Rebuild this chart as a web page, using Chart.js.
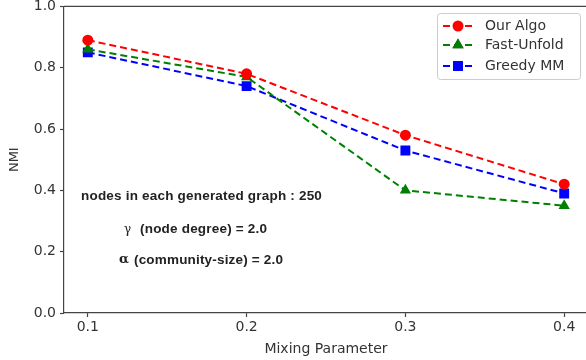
<!DOCTYPE html>
<html>
<head>
<meta charset="utf-8">
<script src="https://cdn.jsdelivr.net/npm/chart.js@4.4.0/dist/chart.umd.min.js"></script>
<style>
html,body{margin:0;padding:0;background:#fff;overflow:hidden;}
#wrap{width:586px;height:360px;position:relative;overflow:hidden;}
#c{position:absolute;left:0;top:-6px;}
</style>
</head>
<body>
<div id="wrap"><canvas id="c" width="620" height="366"></canvas></div>
<script>
const mixing = [0.1, 0.2, 0.3, 0.4];
const ourAlgo = [0.89, 0.78, 0.58, 0.42];
const fastUnfold = [0.86, 0.77, 0.40, 0.35];
const greedyMM = [0.85, 0.74, 0.53, 0.39];
const seriesNames = ['Our Algo', 'Fast-Unfold', 'Greedy MM'];
const yTicks = [0.0, 0.2, 0.4, 0.6, 0.8, 1.0];
const xTicks = [0.1, 0.2, 0.3, 0.4];
const notes = ['nodes in each generated graph : 250', '(node degree) = 2.0', '(community-size) = 2.0'];

const pts = arr => arr.map((v, i) => ({x: mixing[i], y: v}));
const TXT = '#333333';
const FONT = 'DejaVu Sans';
const OFF = 6; // canvas vertical offset

function fitText(ctx, text, x, y, width) {
  ctx.letterSpacing = '0px';
  const w = ctx.measureText(text).width;
  const sp = (width - w) / Math.max(1, text.length - 1);
  ctx.letterSpacing = sp.toFixed(2) + 'px';
  ctx.fillText(text, x, y);
  ctx.letterSpacing = '0px';
}

const overlay = {
  id: 'overlay',
  afterDraw(chart) {
    const ctx = chart.ctx;
    const a = chart.chartArea;
    ctx.save();
    // top spine
    ctx.strokeStyle = '#444';
    ctx.lineWidth = 1.2;
    ctx.beginPath();
    ctx.moveTo(a.left, a.top);
    ctx.lineTo(a.right, a.top);
    ctx.stroke();

    // annotations
    ctx.fillStyle = '#222';
    ctx.textBaseline = 'middle';
    ctx.textAlign = 'left';
    ctx.font = 'bold 13.5px "Liberation Sans"';
    fitText(ctx, notes[0], 81, 196 + OFF, 241);
    ctx.font = '12px "DejaVu Serif"';
    ctx.fillText('\u03b3', 124, 230 + OFF);
    ctx.font = 'bold 13.5px "Liberation Sans"';
    fitText(ctx, notes[1], 140, 229 + OFF, 127);
    ctx.font = 'bold 13px "DejaVu Serif"';
    ctx.fillText('\u03b1', 119, 260 + OFF);
    ctx.font = 'bold 13.5px "Liberation Sans"';
    fitText(ctx, notes[2], 134, 260 + OFF, 149);

    // legend
    const lx = 437, ly = 13 + OFF, lw = 143, lh = 66;
    ctx.fillStyle = 'rgba(255,255,255,0.85)';
    ctx.strokeStyle = '#cccccc';
    ctx.lineWidth = 1;
    ctx.beginPath();
    if (ctx.roundRect) ctx.roundRect(lx + 0.5, ly + 0.5, lw, lh, 3); else ctx.rect(lx + 0.5, ly + 0.5, lw, lh);
    ctx.fill();
    ctx.stroke();
    const rows = [26, 45, 66];
    chart.data.datasets.forEach((ds, i) => {
      const y = rows[i] + OFF;
      ctx.strokeStyle = ds.borderColor;
      ctx.lineWidth = ds.borderWidth;
      ctx.setLineDash(ds.borderDash);
      ctx.beginPath();
      ctx.moveTo(443, y);
      ctx.lineTo(474, y);
      ctx.stroke();
      ctx.setLineDash([]);
      Chart.helpers.drawPoint(ctx, {pointStyle: ds.pointStyle, radius: ds.pointRadius, borderWidth: 0}, 458, y);
      ctx.fillStyle = ds.pointBackgroundColor;
      ctx.fill();
      ctx.fillStyle = TXT;
      ctx.font = '14px "DejaVu Sans"';
      ctx.textBaseline = 'middle';
      ctx.fillText(ds.label, 485, y);
    });
    ctx.restore();
  }
};

const mk = (label, data, color, style, r) => ({
  label, data: pts(data), borderColor: color, backgroundColor: color,
  pointBackgroundColor: color, pointBorderColor: color, pointBorderWidth: 0,
  pointStyle: style, pointRadius: r, pointHoverRadius: r,
  borderWidth: 2, borderDash: [7, 4], fill: false, tension: 0
});

new Chart(document.getElementById('c'), {
  type: 'line',
  data: {
    datasets: [
      mk(seriesNames[0], ourAlgo, '#ff0000', 'circle', 5.5),
      mk(seriesNames[1], fastUnfold, '#008000', 'triangle', 6.5),
      mk(seriesNames[2], greedyMM, '#0000ff', 'rect', 7)
    ]
  },
  options: {
    responsive: false,
    animation: false,
    layout: {padding: {top: 12, left: 0, right: 32, bottom: 0}},
    plugins: {legend: {display: false}, tooltip: {enabled: false}},
    scales: {
      x: {
        type: 'linear', min: 0.085, max: 0.415,
        afterBuildTicks: s => { s.ticks = xTicks.map(v => ({value: v})); },
        afterFit: s => { s.height = 47; },
        grid: {display: true, drawOnChartArea: false, drawTicks: true, tickLength: 4, color: '#444', tickWidth: 1.2},
        border: {display: true, color: '#444', width: 1.2},
        ticks: {color: TXT, font: {family: FONT, size: 14}, padding: 2, maxRotation: 0, callback: v => v.toFixed(1)},
        title: {display: true, text: 'Mixing Parameter', color: TXT, font: {family: FONT, size: 14}, padding: {top: 0, bottom: 2}}
      },
      y: {
        min: 0, max: 1,
        afterBuildTicks: s => { s.ticks = yTicks.map(v => ({value: v})); },
        afterFit: s => { s.width = 64; },
        grid: {display: true, drawOnChartArea: false, drawTicks: true, tickLength: 4, color: '#444', tickWidth: 1.2},
        border: {display: true, color: '#444', width: 1.2},
        ticks: {color: TXT, font: {family: FONT, size: 14}, padding: 4, callback: v => v.toFixed(1)},
        title: {display: true, text: 'NMI', color: TXT, font: {family: FONT, size: 13}, padding: {top: 7, bottom: 0}}
      }
    }
  },
  plugins: [overlay]
});
</script>
</body>
</html>
